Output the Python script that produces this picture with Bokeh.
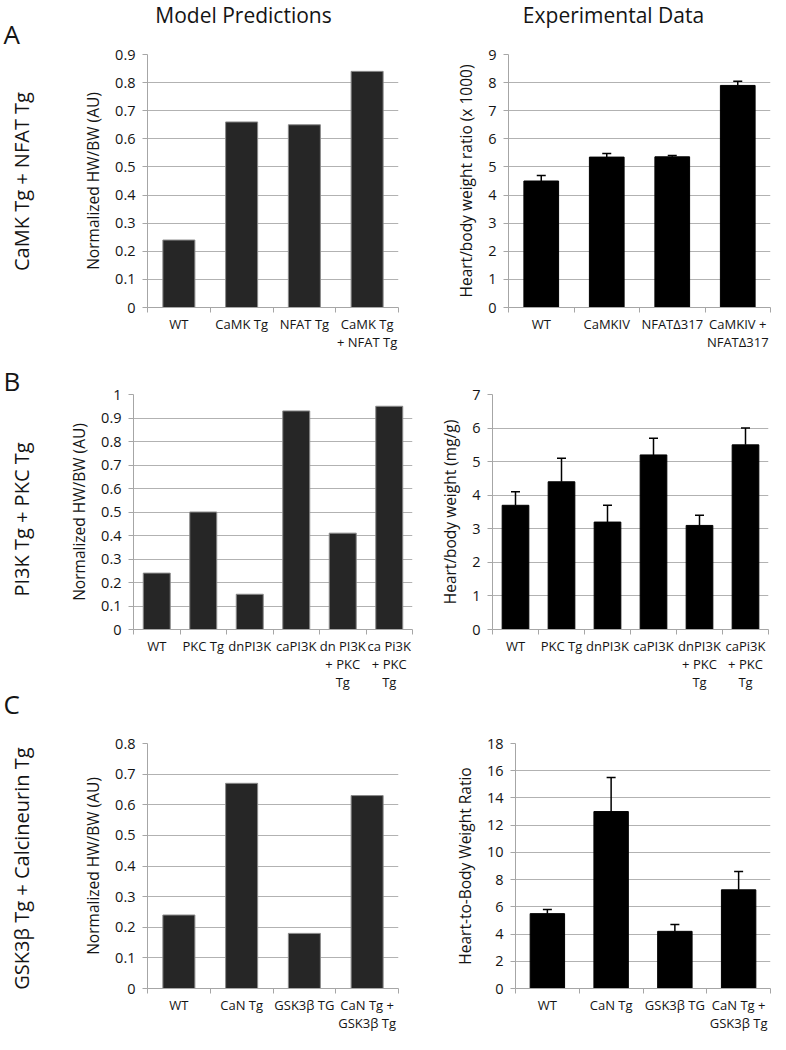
import math
from bokeh.plotting import figure
from bokeh.models import (Range1d, FixedTicker, LinearAxis, Whisker, TeeHead,
                          ColumnDataSource, Grid)
from bokeh.layouts import row, column
from bokeh.embed import file_html
from bokeh.resources import INLINE
from bokeh.core.properties import value

# ---------------- data ----------------
col_titles = ["Model Predictions", "Experimental Data"]
panel_letters = ["A", "B", "C"]
panel_groups = ["CaMK Tg + NFAT Tg", "PI3K Tg + PKC Tg", "GSK3\u03b2 Tg + Calcineurin Tg"]

A_model_cats = ["WT", "CaMK Tg", "NFAT Tg", "CaMK Tg\n+ NFAT Tg"]
A_model_vals = [0.24, 0.66, 0.65, 0.84]
A_model_ticks = [0, 0.1, 0.2, 0.3, 0.4, 0.5, 0.6, 0.7, 0.8, 0.9]

A_exp_cats = ["WT", "CaMKIV", "NFAT\u0394317", "CaMKIV +\nNFAT\u0394317"]
A_exp_vals = [4.5, 5.35, 5.36, 7.9]
A_exp_err = [0.2, 0.13, 0.05, 0.15]
A_exp_ticks = [0, 1, 2, 3, 4, 5, 6, 7, 8, 9]

B_model_cats = ["WT", "PKC Tg", "dnPI3K", "caPI3K", "dn PI3K\n+ PKC\nTg", "ca Pi3K\n+ PKC\nTg"]
B_model_vals = [0.24, 0.5, 0.15, 0.93, 0.41, 0.95]
B_model_ticks = [0, 0.1, 0.2, 0.3, 0.4, 0.5, 0.6, 0.7, 0.8, 0.9, 1]

B_exp_cats = ["WT", "PKC Tg", "dnPI3K", "caPI3K", "dnPI3K\n+ PKC\nTg", "caPi3K\n+ PKC\nTg"]
B_exp_vals = [3.7, 4.4, 3.2, 5.2, 3.1, 5.5]
B_exp_err = [0.4, 0.7, 0.5, 0.5, 0.3, 0.5]
B_exp_ticks = [0, 1, 2, 3, 4, 5, 6, 7]

C_model_cats = ["WT", "CaN Tg", "GSK3\u03b2 TG", "CaN Tg +\nGSK3\u03b2 Tg"]
C_model_vals = [0.24, 0.67, 0.18, 0.63]
C_model_ticks = [0, 0.1, 0.2, 0.3, 0.4, 0.5, 0.6, 0.7, 0.8]

C_exp_cats = ["WT", "CaN Tg", "GSK3\u03b2 TG", "CaN Tg +\nGSK3\u03b2 Tg"]
C_exp_vals = [5.5, 13.0, 4.2, 7.25]
C_exp_err = [0.3, 2.5, 0.5, 1.35]
C_exp_ticks = [0, 2, 4, 6, 8, 10, 12, 14, 16, 18]

model_ylabel = "Normalized HW/BW (AU)"
A_exp_ylabel = "Heart/body weight ratio (x 1000)"
B_exp_ylabel = "Heart/body weight (mg/g)"
C_exp_ylabel = "Heart-to-Body Weight Ratio"

# ---------------- style ----------------
FONT = "Open Sans"
GRID = "#b2b2b2"
AXIS = "#a6a6a6"
TXT = "#141414"


def chart(cats, vals, errs, ticks, ylabel, fw, fh, bl, br, bt, bb,
          fill, line, bw):
    n = len(cats)
    xs = list(range(1, n + 1))
    p = figure(width=bl + fw + br, height=bt + fh + bb, title=None,
               min_border_left=bl, min_border_right=br,
               min_border_top=bt, min_border_bottom=bb,
               x_range=Range1d(0.5, n + 0.5),
               y_range=Range1d(ticks[0], ticks[-1]),
               x_axis_type=None, y_axis_type=None,
               output_backend="svg", toolbar_location=None)
    p.outline_line_color = None
    p.background_fill_color = "white"
    p.border_fill_color = "white"

    yt = FixedTicker(ticks=ticks, minor_ticks=[])
    p.add_layout(Grid(dimension=1, ticker=yt, grid_line_color=GRID,
                      grid_line_width=1))
    yax = LinearAxis(ticker=yt,
                     major_label_overrides={t: f"{t:g}" for t in ticks},
                     axis_label=ylabel,
                     axis_line_color=AXIS, major_tick_line_color=AXIS,
                     major_tick_out=5, major_tick_in=0,
                     minor_tick_line_color=None,
                     major_label_standoff=7, axis_label_standoff=8,
                     major_label_text_font=FONT, major_label_text_font_size="14.5px",
                     major_label_text_color=TXT,
                     axis_label_text_font=FONT, axis_label_text_font_size="15.5px",
                     axis_label_text_font_style="normal",
                     axis_label_text_color=TXT)
    p.add_layout(yax, "left")

    edges = [i + 0.5 for i in range(n + 1)]
    xt = FixedTicker(ticks=xs, minor_ticks=edges)
    xax = LinearAxis(ticker=xt,
                     major_label_overrides={x: c for x, c in zip(xs, cats)},
                     axis_line_color=AXIS, major_tick_line_color=None,
                     major_tick_out=0, major_tick_in=0,
                     minor_tick_line_color=AXIS, minor_tick_out=5, minor_tick_in=0,
                     major_label_standoff=2,
                     major_label_text_font=FONT, major_label_text_font_size="13px",
                     major_label_text_color=TXT,
                     major_label_text_line_height=1.0)
    p.add_layout(xax, "below")

    src = ColumnDataSource(dict(x=xs, top=vals))
    p.vbar(x="x", top="top", bottom=0, width=bw, source=src,
           fill_color=fill, line_color=line, line_width=1)
    if errs is not None:
        esrc = ColumnDataSource(dict(x=xs, lo=vals,
                                     hi=[v + e for v, e in zip(vals, errs)]))
        p.add_layout(Whisker(source=esrc, base="x", lower="lo", upper="hi",
                             line_color="black", line_width=1.5,
                             lower_head=None,
                             upper_head=TeeHead(size=9, line_color="black",
                                                line_width=1.5)))
    return p


MF, ML = "#262626", "#8a8a8a"
EF, EL = "#000000", "#000000"

# row A
aL = chart(A_model_cats, A_model_vals, None, A_model_ticks, model_ylabel,
           251, 253, 109, 4, 26, 46, MF, ML, 0.51)
aR = chart(A_exp_cats, A_exp_vals, A_exp_err, A_exp_ticks, A_exp_ylabel,
           262, 253, 106, 2, 26, 46, EF, EL, 0.53)
# row B
bL = chart(B_model_cats, B_model_vals, None, B_model_ticks, model_ylabel,
           279, 235, 95, 2, 41, 64, MF, ML, 0.58)
bR = chart(B_exp_cats, B_exp_vals, B_exp_err, B_exp_ticks, B_exp_ylabel,
           276, 235, 78, 2, 41, 64, EF, EL, 0.58)
# row C
cL = chart(C_model_cats, C_model_vals, None, C_model_ticks, model_ylabel,
           251, 246, 109, 4, 50, 45, MF, ML, 0.51)
cR = chart(C_exp_cats, C_exp_vals, C_exp_err, C_exp_ticks, C_exp_ylabel,
           255, 246, 113, 2, 50, 45, EF, EL, 0.54)


def strip(w, h):
    f = figure(width=w, height=h, title=None, x_range=Range1d(0, w),
               y_range=Range1d(0, h), min_border=0, x_axis_type=None,
               y_axis_type=None, output_backend="svg", toolbar_location=None)
    f.outline_line_color = None
    f.grid.visible = False
    return f


SW = 38
# title strip
TW, TH = 732, 28
tfig = strip(TW, TH)
tfig.text(x=[243 - SW, 613 - SW], y=[TH - 14, TH - 14], text=col_titles,
          text_font=value(FONT), text_font_size="21px", text_color=TXT,
          text_align="center", text_baseline="middle")

# side strip
SH = 1034
sfig = strip(SW, SH)
sfig.text(x=[3, 3, 3], y=[SH - 33, SH - 380, SH - 703], text=panel_letters,
          text_font=value(FONT), text_font_size="26px", text_color=TXT,
          text_align="left", text_baseline="middle")
sfig.text(x=[21, 21, 21], y=[SH - 181, SH - 519, SH - 868], text=panel_groups,
          angle=math.pi / 2,
          text_font=value(FONT), text_font_size="20px", text_color=TXT,
          text_align="center", text_baseline="middle")

layout = row(sfig, column(tfig, row(aL, aR), row(bL, bR), row(cL, cR)))

open("out.html", "w").write(file_html(layout, INLINE, "chart"))
